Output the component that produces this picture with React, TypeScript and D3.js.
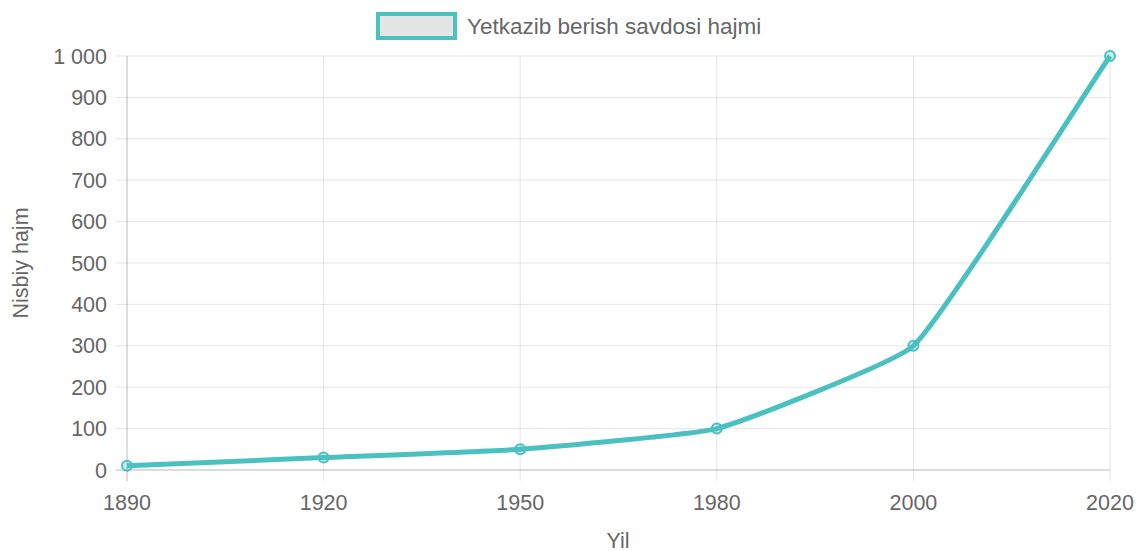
import React from "react";
import * as d3 from "d3";

const categories = ["1890", "1920", "1950", "1980", "2000", "2020"];
const values = [10, 30, 50, 100, 300, 1000];
const yTicks = [0, 100, 200, 300, 400, 500, 600, 700, 800, 900, 1000];
const seriesName = "Yetkazib berish savdosi hajmi";
const xTitle = "Yil";
const yTitle = "Nisbiy hajm";

const W = 1137;
const H = 551;
const left = 127;
const right = 1110;
const top = 56;
const bottom = 470;
const color = "rgb(75,192,192)";
const font = "'Liberation Sans', Arial, Helvetica, sans-serif";
const textColor = "#666";
const grid = "rgba(0,0,0,0.1)";
const fs = 21.5;

function fmt(v: number) {
  const s = String(v);
  return s.replace(/\B(?=(\d{3})+(?!\d))/g, " ");
}

function splinePath(pts: [number, number][], t: number) {
  const cps = pts.map((cur, i) => {
    const prev = pts[i - 1] || cur;
    const next = pts[i + 1] || cur;
    const d01 = Math.hypot(cur[0] - prev[0], cur[1] - prev[1]);
    const d12 = Math.hypot(next[0] - cur[0], next[1] - cur[1]);
    let s01 = d01 / (d01 + d12);
    let s12 = d12 / (d01 + d12);
    if (isNaN(s01)) s01 = 0;
    if (isNaN(s12)) s12 = 0;
    const fa = t * s01;
    const fb = t * s12;
    const clampX = (x: number) => Math.max(left, Math.min(right, x));
    const clampY = (y: number) => Math.max(top, Math.min(bottom, y));
    return {
      p: [clampX(cur[0] - fa * (next[0] - prev[0])), clampY(cur[1] - fa * (next[1] - prev[1]))],
      n: [clampX(cur[0] + fb * (next[0] - prev[0])), clampY(cur[1] + fb * (next[1] - prev[1]))],
    };
  });
  let d = `M${pts[0][0]},${pts[0][1]}`;
  for (let i = 1; i < pts.length; i++) {
    const a = cps[i - 1].n;
    const b = cps[i].p;
    d += `C${a[0]},${a[1]},${b[0]},${b[1]},${pts[i][0]},${pts[i][1]}`;
  }
  return d;
}

export default function App() {
  const x = d3.scalePoint<string>().domain(categories).range([left, right]);
  const y = d3.scaleLinear().domain([0, 1000]).range([bottom, top]);
  const pts: [number, number][] = categories.map((c, i) => [x(c) as number, y(values[i])]);
  const path = splinePath(pts, 0.12);

  return (
    <svg
      width={W}
      height={H}
      style={{ position: "absolute", left: 0, top: 0, background: "#fff" }}
      fontFamily={font}
    >
      {/* horizontal grid */}
      {yTicks.map((t) => (
        <g key={"y" + t}>
          <line x1={116} x2={right} y1={y(t)} y2={y(t)} stroke={grid} strokeWidth={1} />
          <text x={107} y={y(t)} dy="0.35em" textAnchor="end" fontSize={fs} fill={textColor}>
            {fmt(t)}
          </text>
        </g>
      ))}
      {/* vertical grid */}
      {categories.map((c) => (
        <g key={"x" + c}>
          <line x1={x(c)} x2={x(c)} y1={top} y2={481} stroke={grid} strokeWidth={1} />
          <text x={x(c)} y={510} textAnchor="middle" fontSize={fs} fill={textColor}>
            {c}
          </text>
        </g>
      ))}
      {/* axis lines */}
      <line x1={left} x2={left} y1={top} y2={481} stroke="rgba(0,0,0,0.18)" />
      <line x1={116} x2={right} y1={bottom} y2={bottom} stroke="rgba(0,0,0,0.18)" />

      {/* titles */}
      <text x={618} y={548} textAnchor="middle" fontSize={fs} fill={textColor}>
        {xTitle}
      </text>
      <text
        transform={`translate(28,${(top + bottom) / 2}) rotate(-90)`}
        textAnchor="middle"
        fontSize={fs}
        fill={textColor}
      >
        {yTitle}
      </text>

      {/* legend */}
      <rect x={378} y={14} width={77} height={24} fill="rgb(229,229,229)" stroke={color} strokeWidth={4} />
      <text x={467} y={26} dy="0.35em" fontSize={22.5} fill={textColor}>
        {seriesName}
      </text>

      {/* line */}
      <path d={path} fill="none" stroke={color} strokeWidth={5} strokeLinejoin="round" />
      {pts.map((p, i) => (
        <circle
          key={i}
          cx={p[0]}
          cy={p[1]}
          r={5}
          fill="rgba(75,192,192,0.3)"
          stroke={color}
          strokeWidth={2}
        />
      ))}
    </svg>
  );
}
